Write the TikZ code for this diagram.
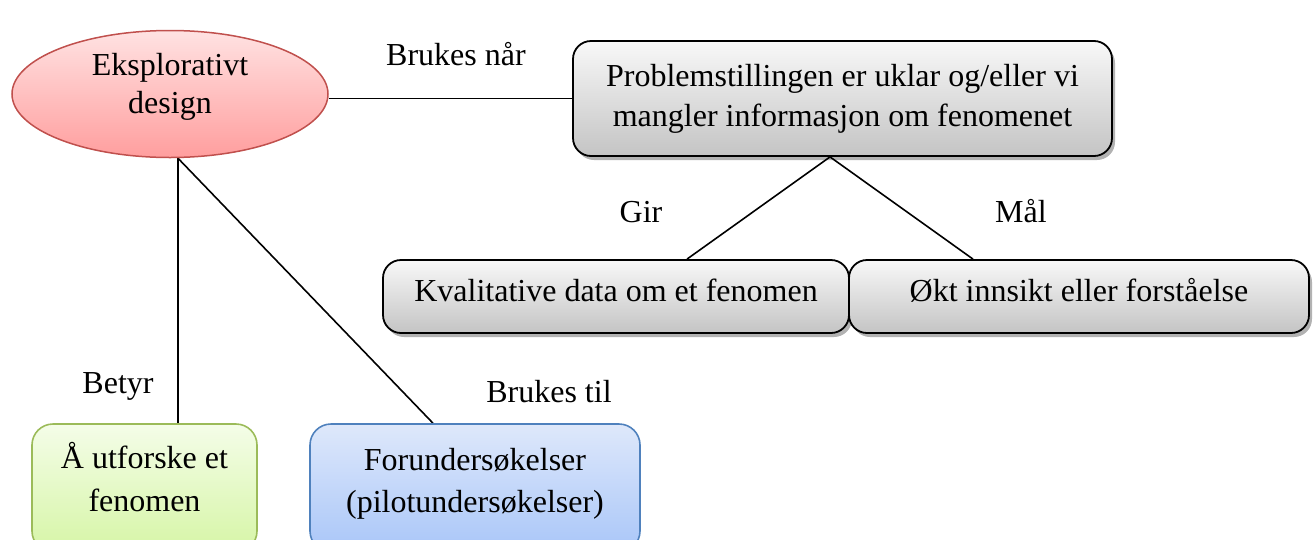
\documentclass[tikz,border=0pt]{standalone}
\usepackage{fontspec}
\setmainfont{Liberation Serif}
\usetikzlibrary{shapes.geometric,shadows}
\definecolor{elTop}{RGB}{255,226,226}
\definecolor{elBot}{RGB}{255,158,158}
\definecolor{elLine}{RGB}{192,80,77}
\definecolor{grTop}{RGB}{248,248,248}
\definecolor{grBot}{RGB}{196,196,196}
\definecolor{gnTop}{RGB}{244,253,232}
\definecolor{gnBot}{RGB}{214,245,166}
\definecolor{gnLine}{RGB}{155,187,89}
\definecolor{blTop}{RGB}{222,232,250}
\definecolor{blBot}{RGB}{169,198,249}
\definecolor{blLine}{RGB}{79,129,189}
\pgfdeclarelayer{bg}
\pgfsetlayers{bg,main}
\begin{document}
\begin{tikzpicture}[x=1pt,y=-1pt,
  every node/.style={font=\fontsize{32}{40}\selectfont},
  conn/.style={draw=black,line width=1.6pt},
  lbl/.style={anchor=base,inner sep=0pt},
  ellipsebox/.style={ellipse,draw=elLine,line width=1.5pt,top color=elTop,bottom color=elBot},
  graybox/.style={rectangle,draw=black,line width=1.8pt,rounded corners=18pt,
    top color=grTop,bottom color=grBot,
    drop shadow={shadow xshift=3pt,shadow yshift=-4pt,opacity=0.3,fill=black}},
  greenbox/.style={rectangle,draw=gnLine,line width=1.6pt,rounded corners=21pt,
    top color=gnTop,bottom color=gnBot,align=center},
  bluebox/.style={rectangle,draw=blLine,line width=1.6pt,rounded corners=21pt,
    top color=blTop,bottom color=blBot,align=center}
]
\useasboundingbox (0,0) rectangle (1314,539);
\clip (0,0) rectangle (1314,539);

% shapes
\node[ellipsebox,minimum width=316pt,minimum height=127pt] (ed) at (170,94) {};
\node[align=center,font=\fontsize{32}{38}\selectfont] (edt) at (170,86.4) {\strut Eksplorativt\\design\strut};

\node[graybox,minimum width=539pt,minimum height=115pt,align=center] (pb) at (842.5,98.5)
  {\strut Problemstillingen er uklar og/eller vi\\mangler informasjon om fenomenet\strut};

\node[graybox,minimum width=466pt,minimum height=73pt,text height=24pt,text depth=13.6pt] (kv) at (616,296.5)
  {Kvalitative data om et fenomen};
\node[graybox,minimum width=460pt,minimum height=73pt,text height=24pt,text depth=13.6pt] (ok) at (1079,296.5)
  {Økt innsikt eller forståelse};

\node[greenbox,minimum width=225pt,minimum height=128pt,font=\fontsize{32}{43}\selectfont] (gr) at (144.5,488)
  {\strut Å utforske et\\fenomen\rule[-27pt]{0pt}{1pt}};
\node[bluebox,minimum width=330pt,minimum height=128pt,font=\fontsize{32}{42}\selectfont] (bl) at (475,488)
  {\strut Forundersøkelser\\(pilotundersøkelser)\rule[-23.4pt]{0pt}{1pt}};

% labels
\node[lbl] (l1) at (456,65) {Brukes når};
\node[lbl] (l2) at (641,222) {Gir};
\node[lbl] (l3) at (1021,222) {Mål};
\node[lbl] (l4) at (118,393) {Betyr};
\node[lbl] (l5) at (549,402) {Brukes til};

% connectors
\coordinate (apex) at ([xshift=-12.5pt]pb.south);
\coordinate (gtop) at ([xshift=33.5pt]gr.north);
\coordinate (root) at (gtop |- ed.south);
\coordinate (edr) at (pb.west -| ed.east);
\begin{pgfonlayer}{bg}
\draw[conn] (edr) -- (pb.west);
\draw[conn] ([xshift=71pt]kv.north) -- (apex) -- ([xshift=-106pt]ok.north);
\draw[conn] (gtop) -- (root) -- ([xshift=-42pt]bl.north);
\end{pgfonlayer}
\end{tikzpicture}
\end{document}
